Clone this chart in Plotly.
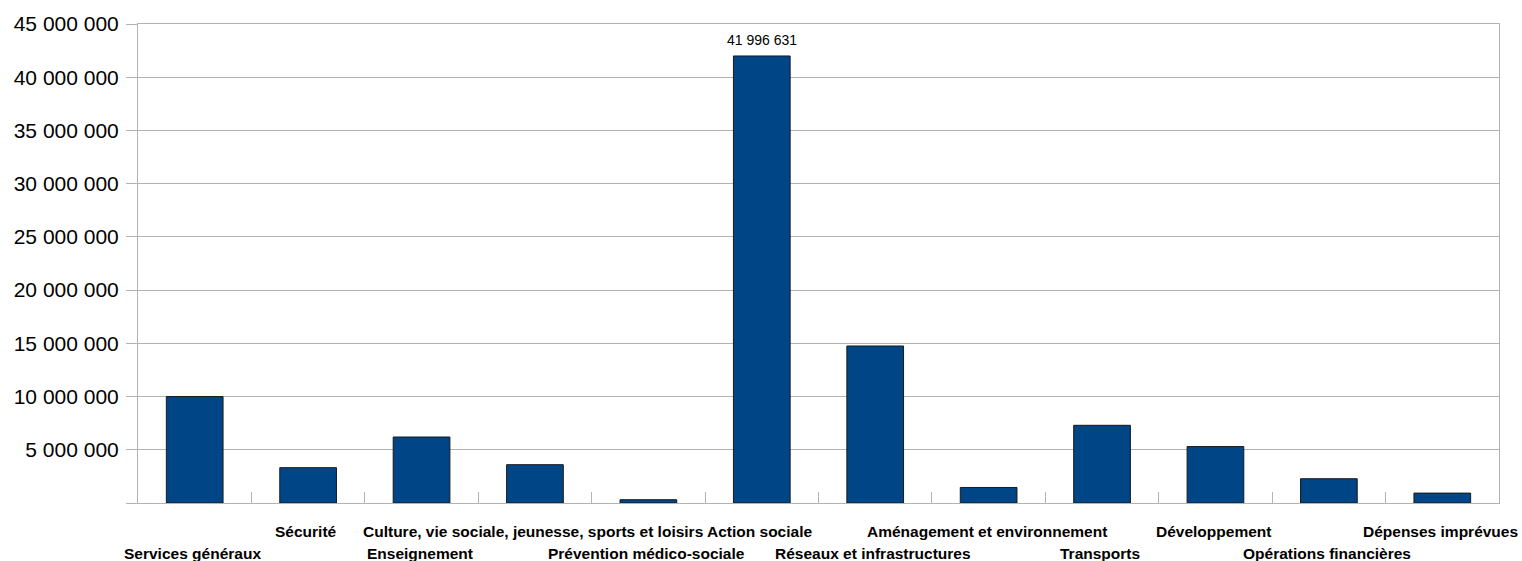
import plotly.graph_objects as go

categories = [
    "Services généraux", "Sécurité", "Enseignement",
    "Culture, vie sociale, jeunesse, sports et loisirs",
    "Prévention médico-sociale", "Action sociale",
    "Réseaux et infrastructures", "Aménagement et environnement",
    "Transports", "Développement", "Opérations financières",
    "Dépenses imprévues",
]
values = [10000000, 3320000, 6200000, 3600000, 310000, 41996631,
          14750000, 1460000, 7300000, 5300000, 2280000, 930000]
y_tickvals = [0, 5000000, 10000000, 15000000, 20000000, 25000000,
              30000000, 35000000, 40000000, 45000000]


def fmt(v):
    return f"{int(v):,}".replace(",", " ")


vmax = max(values)
imax = values.index(vmax)
y_ticktext = ["" if v == 0 else fmt(v) for v in y_tickvals]

FONT = "Liberation Sans, Arial, sans-serif"

fig = go.Figure()
fig.add_trace(go.Bar(
    x=categories, y=values,
    marker=dict(color="#004586", line=dict(color="#1a1a1a", width=1)),
    width=0.5,
    hoverinfo="x+y",
))

annotations = [dict(
    x=categories[imax], xref="x", y=vmax, yref="y",
    text=fmt(vmax), showarrow=False, xanchor="center", yanchor="bottom",
    yshift=6, font=dict(family=FONT, size=14, color="#000000"),
)]
for i, c in enumerate(categories):
    upper = (i % 2 == 1)
    annotations.append(dict(
        x=c, xref="x", y=-0.0605 if upper else -0.1044, yref="paper",
        text=f"<b>{c}</b>", showarrow=False, xanchor="center", yanchor="middle",
        xshift=-2,
        font=dict(family=FONT, size=15.5, color="#000000"),
    ))

fig.update_layout(
    width=1522, height=561,
    margin=dict(l=138, r=23, t=24, b=58, autoexpand=False),
    paper_bgcolor="white", plot_bgcolor="white",
    showlegend=False,
    annotations=annotations,
    font=dict(family=FONT, color="#000000"),
)
fig.update_xaxes(
    range=[-0.5, len(categories) - 0.5],
    showticklabels=False, tickson="boundaries", ticks="inside", ticklen=11,
    tickcolor="#b3b3b3", showline=True, linecolor="#b3b3b3", linewidth=1,
    mirror=True, showgrid=False,
)
fig.update_yaxes(
    range=[0, 45000000], tickvals=y_tickvals, ticktext=y_ticktext,
    ticks="outside", ticklen=11, tickcolor="#b3b3b3",
    showline=True, linecolor="#b3b3b3", linewidth=1, mirror=True,
    showgrid=True, gridcolor="#b3b3b3", gridwidth=1, zeroline=False,
    ticklabelstandoff=3,
    tickfont=dict(family=FONT, size=21, color="#000000"),
)

# remove the browser's default 8px page margin so the figure fills the window
fig.write_html(
    "out.html",
    config={"displayModeBar": False},
    post_script="document.body.style.margin='0';document.body.style.overflow='hidden';",
)
